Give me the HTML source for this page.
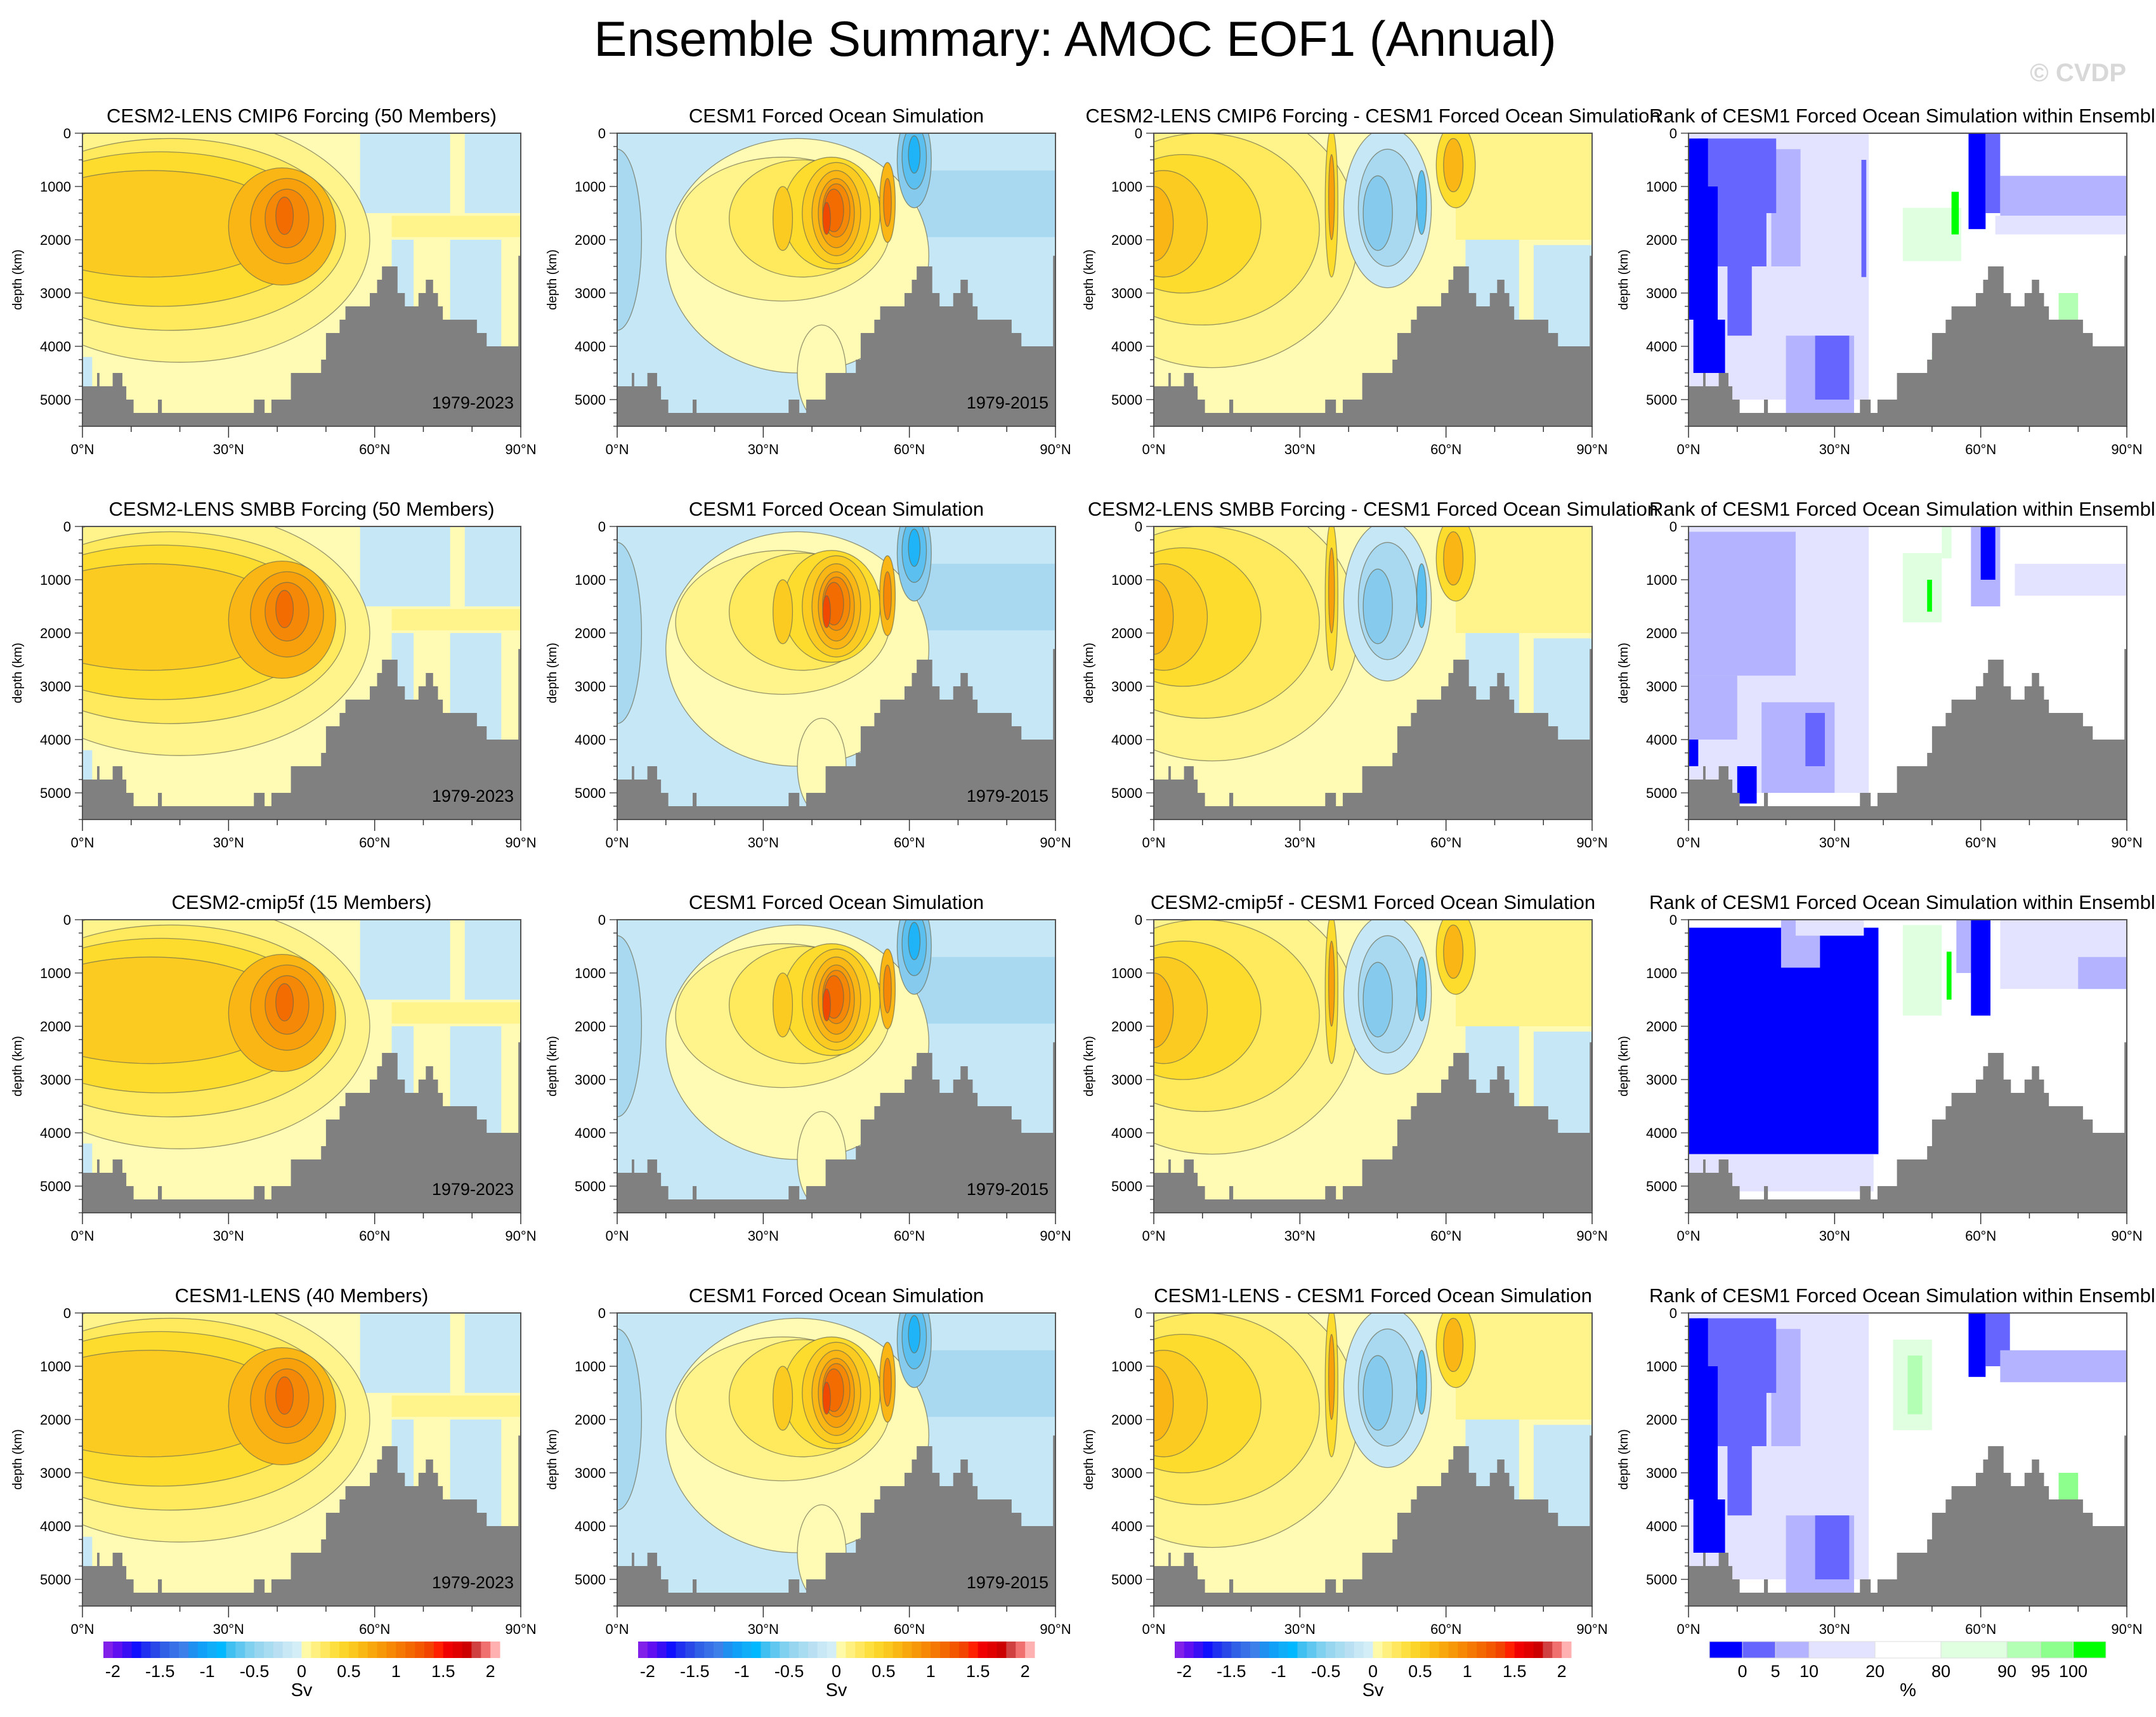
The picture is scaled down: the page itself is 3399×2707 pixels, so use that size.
<!DOCTYPE html>
<html><head><meta charset="utf-8">
<style>
html,body{margin:0;padding:0;background:#fff;overflow:hidden;}
svg{display:block;font-family:"Liberation Sans",sans-serif;}
</style></head>
<body>
<svg id="fig" xmlns="http://www.w3.org/2000/svg" width="3399" height="2707" viewBox="0 0 3399 2707">
<text x="1695" y="88" font-size="78" text-anchor="middle" fill="#000">Ensemble Summary: AMOC EOF1 (Annual)</text>
<text x="3352" y="128" font-size="40" font-weight="bold" text-anchor="end" fill="#d8d8d8">© CVDP</text>
<g id="panels"></g>
</svg>
<script>
// ---- data ----
const colX = [130, 973, 1819, 2662];
const rowY = [210, 830, 1450, 2070];
const latTicks = [0, 30, 60, 90];
const latTickLabels = ["0°N", "30°N", "60°N", "90°N"];
const depthTicks = [0, 1000, 2000, 3000, 4000, 5000];
const bathLat = [0,3,3.5,6.2,8.2,9,10.5,15.5,16.3,35.2,37.4,38.8,42.8,49,50,52.8,54,59,60.5,61.5,64.7,66.2,69,70.5,72,73,74,81,83,89.5];
const bathDepth = [4750,4500,4750,4500,4750,5000,5250,5000,5250,5000,5250,5000,4500,4250,3750,3500,3250,3000,2750,2500,3000,3250,3000,2750,3000,3250,3500,3750,4000,2300];
const col1Titles = ["CESM2-LENS CMIP6 Forcing (50 Members)","CESM2-LENS SMBB Forcing (50 Members)","CESM2-cmip5f (15 Members)","CESM1-LENS (40 Members)"];
const col3Titles = ["CESM2-LENS CMIP6 Forcing - CESM1 Forced Ocean Simulation","CESM2-LENS SMBB Forcing - CESM1 Forced Ocean Simulation","CESM2-cmip5f - CESM1 Forced Ocean Simulation","CESM1-LENS - CESM1 Forced Ocean Simulation"];
const svNeg = ["#8020e8","#6010f0","#3a0ef5","#1010ff","#2030f0","#2a48e8","#3060e6","#3870e8","#3e80ea","#2090f0","#10a0f8","#10aef8","#00b8ff","#40c0f0","#60c8f0","#80d0f0","#98d6f0","#a8dcf0","#b8e0f2","#c8e8f6","#d4eef8"];
const svPos = ["#fffaa8","#fff080","#ffe860","#fde040","#fcd52a","#fbc820","#f9b814","#f8a80c","#f79808","#f68806","#f57804","#f46802","#f35800","#f24400","#ff2000","#f00000","#e00000","#cc0000","#d04040","#f07070","#ffb0b0"];
const svLabels = ["-2","-1.5","-1","-0.5","0","0.5","1","1.5","2"];
const svLabelVals = [-2,-1.5,-1,-0.5,0,0.5,1,1.5,2];
const rankColors = ["#0000ff","#6666ff","#b3b3ff","#e3e3ff","#ffffff","#e0ffe0","#b3ffb3","#8cff8c","#00ff00"];
const rankBounds = [0,102,204,308,512,716,920,1024,1125,1226];
const rankLabels = ["0","5","10","20","80","90","95","100"];
const pal = {p0:"#fffbb4",p1:"#fff38c",p2:"#ffe95c",p3:"#fddc2e",p4:"#fccb22",p5:"#f9b614",p6:"#f7a00c",p7:"#f58806",p8:"#f36c02",p9:"#f04800",p10:"#e51a00",
 n0:"#c6e7f6",n1:"#a9d9f1",n2:"#86cbee",n3:"#5bc0ef",n4:"#1fb3f7",
 r0:"#0000ff",r1:"#6666ff",r2:"#b3b3ff",r3:"#e3e3ff",g0:"#e0ffe0",g1:"#b3ffb3",g2:"#8cff8c",g3:"#00ff00"};
// field shapes: ['e',lat,depth,rxDeg,ryM,color] or ['r',lat0,lat1,d0,d1,color]
const fieldA = [["r",57,90,0,1500,"n0"],["r",75.5,78.5,0,1500,"p0"],["r",63.5,68,2000,5000,"n0"],["r",75.5,86,2000,4000,"n0"],["r",0,2,4200,4800,"n0"],
 ["e",20,2000,39,2300,"p1"],["e",18,1900,36,1800,"p2"],["e",16,1800,33,1450,"p3"],["e",14,1700,28,1000,"p4"],
 ["e",41,1750,11,1100,"p5"],["e",42,1650,7.5,800,"p6"],["e",42,1600,4.5,550,"p7"],["e",41.5,1550,1.8,350,"p8"],["r",63.5,90,1550,1950,"p1"]];
const fieldB = [["e",0,2000,5,1700,"n1"],["r",62,90,700,1950,"n1"],
 ["e",37,2300,27,2200,"p0"],["e",42,4500,5,900,"p0"],["e",34,1800,22,1350,"p1"],["e",38,1600,15,1100,"p2"],["e",44,1500,10,1050,"p3"],
 ["e",45,1500,7,950,"p4"],["e",45,1500,5,800,"p5"],["e",45,1500,3.7,650,"p6"],["e",45,1450,2.8,500,"p7"],["e",44.5,1450,2,400,"p8"],["e",43,1600,0.8,300,"p9"],
 ["e",34,1600,2,600,"p4"],["e",55.5,1300,1.6,750,"p5"],["e",55.5,1300,0.8,450,"p7"],
 ["e",61,500,3.5,900,"n2"],["e",61,450,2.5,600,"n3"],["e",61,400,1.2,350,"n4"]];
const fieldC = [["r",64,75,2000,5000,"n0"],["r",78,90,2100,4000,"n0"],["r",62,90,0,2000,"p1"],
 ["e",12,1900,30,2500,"p1"],["e",10,1800,24,1800,"p2"],["e",6,1700,16,1300,"p3"],["e",2,1700,9,1000,"p4"],["e",0,1700,4,700,"p5"],
 ["e",48,1400,9,1500,"n0"],["e",48,1400,6,1100,"n1"],["e",46,1500,3,700,"n2"],["e",55,1300,1,600,"n3"],
 ["e",36.5,1300,1.3,1400,"p3"],["e",36.5,1200,0.6,800,"p6"],["e",62,600,4,800,"p3"],["e",61.5,600,2,500,"p5"]];
const rank1 = [["r",0,37,0,5000,"r3"],["r",17,23,300,2500,"r2"],["r",2,18,100,1500,"r1"],["r",6,16,1500,2500,"r1"],["r",8,13,2500,3800,"r1"],
 ["r",0,4,100,1000,"r0"],["r",0,6,1000,3500,"r0"],["r",1,7.5,3500,4500,"r0"],["r",20,34,3800,5300,"r2"],["r",26,33,3800,5000,"r1"],
 ["r",35.5,36.5,500,2700,"r1"],["r",57.5,61,0,1800,"r0"],["r",61,64,0,1500,"r1"],["r",64,90,800,1550,"r2"],["r",63,90,1550,1900,"r3"],
 ["r",44,56,1400,2400,"g0"],["r",54,55.5,1100,1900,"g3"],["r",59,60,3100,3400,"g3"],["r",50,52,4100,4300,"g3"],["r",76,80,3000,3600,"g1"]];
const rank2 = [["r",0,37,0,5000,"r3"],["r",0,22,100,2800,"r2"],["r",0,10,2800,4000,"r2"],["r",15,30,3300,5000,"r2"],["r",24,28,3500,4500,"r1"],
 ["r",0,2,4000,4500,"r0"],["r",10,14,4500,5200,"r0"],["r",58,64,0,1500,"r2"],["r",60,63,0,1000,"r0"],["r",67,90,700,1300,"r3"],
 ["r",44,52,500,1800,"g0"],["r",49,50,1000,1600,"g3"],["r",52,54,0,600,"g0"]];
const rank3 = [["r",0,39,150,4400,"r0"],["r",19,27,0,900,"r2"],["r",22,36,0,300,"r3"],["r",0,38,4400,5100,"r3"],["r",55,58,0,1000,"r2"],
 ["r",58,62,0,1800,"r0"],["r",64,90,0,1300,"r3"],["r",80,90,700,1300,"r2"],["r",44,52,100,1800,"g0"],["r",53,54,600,1500,"g3"]];
const rank4 = [["r",0,37,0,5000,"r3"],["r",17,23,300,2500,"r2"],["r",2,18,100,1500,"r1"],["r",6,16,1500,2500,"r1"],["r",8,13,2500,3800,"r1"],
 ["r",0,4,100,1000,"r0"],["r",0,6,1000,3500,"r0"],["r",1,7.5,3500,4500,"r0"],["r",20,34,3800,5300,"r2"],["r",26,33,3800,5000,"r1"],
 ["r",57.5,61,0,1200,"r0"],["r",61,66,0,1000,"r1"],["r",64,90,700,1300,"r2"],["r",42,50,500,2200,"g0"],["r",45,48,800,1900,"g1"],["r",76,80,3000,3600,"g2"]];
const rankFields = [rank1, rank2, rank3, rank4];

// ---- drawing ----
const NS = "http://www.w3.org/2000/svg";
const PW = 691, PH = 462, DMAX = 5500;
const root = document.getElementById("panels");
function mk(tag, attrs, parent){ const e = document.createElementNS(NS, tag); for (const k in attrs) e.setAttribute(k, attrs[k]); (parent||root).appendChild(e); return e; }
let clipId = 0;
function drawPanel(px, py, bg, field, title, year, pname){
  const g = mk("g", {});
  
  
  const xs = lat => px + lat / 90 * PW;
  const ys = d => py + d / DMAX * PH;
  const cid = "clip" + (clipId++);
  const cp = mk("clipPath", {id: cid}, g);
  mk("rect", {x: px, y: py, width: PW, height: PH}, cp);
  const area = mk("g", {"clip-path": "url(#" + cid + ")"}, g);
  
  
  mk("rect", {x: px, y: py, width: PW, height: PH, fill: bg}, area);
  field.forEach(s => {
    let el;
    if (s[0] === "e") {
      el = mk("ellipse", {cx: xs(s[1]), cy: ys(s[2]), rx: s[3] / 90 * PW, ry: s[4] / DMAX * PH, fill: pal[s[5]],
        stroke: "#6a6a50", "stroke-width": 1.3, "stroke-opacity": 0.7}, area);
      
    } else {
      el = mk("rect", {x: xs(s[1]), y: ys(s[3]), width: xs(s[2]) - xs(s[1]), height: ys(s[4]) - ys(s[3]), fill: pal[s[5]]}, area);
      
    }
    
  });
  let d = "M" + xs(0) + "," + ys(DMAX);
  for (let i = 0; i < bathLat.length; i++) {
    const l0 = bathLat[i], l1 = i + 1 < bathLat.length ? bathLat[i + 1] : 90;
    d += " L" + xs(l0) + "," + ys(bathDepth[i]) + " L" + xs(l1) + "," + ys(bathDepth[i]);
  }
  d += " L" + xs(90) + "," + ys(DMAX) + " Z";
  const bath = mk("path", {d: d, fill: "#808080"}, area);
  
  
  const fr = mk("rect", {x: px, y: py, width: PW, height: PH, fill: "none", stroke: "#555", "stroke-width": 2}, g);
  
  
  for (let lat = 0; lat <= 90; lat += 10) {
    const major = lat % 30 === 0;
    const t = mk("line", {x1: xs(lat), x2: xs(lat), y1: py + PH, y2: py + PH + (major ? 18 : 9), stroke: "#333", "stroke-width": 1.5}, g);
    
    
  }
  latTicks.forEach((lat, i) => {
    const t = mk("text", {x: xs(lat), y: py + PH + 44, "font-size": 22, "text-anchor": "middle"}, g);
    t.textContent = latTickLabels[i];
    
    
  });
  for (let dd = 0; dd <= DMAX; dd += 250) {
    const major = dd % 1000 === 0;
    const t = mk("line", {x1: px - (major ? 12 : 6), x2: px, y1: ys(dd), y2: ys(dd), stroke: "#333", "stroke-width": 1.3}, g);
    
    
  }
  depthTicks.forEach(dd => {
    const t = mk("text", {x: px - 18, y: ys(dd) + 8, "font-size": 22, "text-anchor": "end"}, g);
    t.textContent = String(dd);
    
    
  });
  const yl = mk("text", {x: px - 96, y: py + PH / 2, "font-size": 20, "text-anchor": "middle", transform: "rotate(-90 " + (px - 96) + " " + (py + PH / 2) + ")"}, g);
  yl.textContent = "depth (km)";
  
  
  const tt = mk("text", {x: px + PW / 2, y: py - 17, "font-size": 31, "text-anchor": "middle"}, g);
  tt.textContent = title;
  
  
  if (year) {
    const yt = mk("text", {x: px + PW - 11, y: py + PH - 28, "font-size": 27, "text-anchor": "end"}, g);
    yt.textContent = year;
    
    
  }
}
for (let r = 0; r < 4; r++) {
  drawPanel(colX[0], rowY[r], pal.p0, fieldA, col1Titles[r], "1979-2023", "ensemble-panel");
  drawPanel(colX[1], rowY[r], pal.n0, fieldB, "CESM1 Forced Ocean Simulation", "1979-2015", "forced-ocean-panel");
  drawPanel(colX[2], rowY[r], pal.p0, fieldC, col3Titles[r], null, "difference-panel");
  drawPanel(colX[3], rowY[r], "#ffffff", rankFields[r], "Rank of CESM1 Forced Ocean Simulation within Ensemble", null, "rank-panel");
}
const svColors = svNeg.concat(svPos);
for (let c = 0; c < 3; c++) {
  const x0 = colX[c] + 33, w = 625, cy = 2588, ch = 26;
  const g = mk("g", {});
  
  
  const bw = w / svColors.length;
  svColors.forEach((col, i) => {
    const b = mk("rect", {x: x0 + i * bw, y: cy, width: bw + 0.5, height: ch, fill: col}, g);
    
    
  });
  svLabelVals.forEach((v, i) => {
    const bx = x0 + (v + 2.1) / 0.1 * bw;
    const t = mk("text", {x: bx, y: 2644, "font-size": 27, "text-anchor": "middle"}, g);
    t.textContent = svLabels[i];
    
    
  });
  const u = mk("text", {x: x0 + 21 * bw, y: 2674, "font-size": 29, "text-anchor": "middle"}, g);
  u.textContent = "Sv";
  
  
}
{
  const x0 = 2695, s = 625 / 1226, cy = 2588, ch = 26;
  const g = mk("g", {});
  
  
  rankColors.forEach((col, i) => {
    const b = mk("rect", {x: x0 + rankBounds[i] * s, y: cy, width: (rankBounds[i + 1] - rankBounds[i]) * s, height: ch, fill: col, stroke: "#ddd", "stroke-width": 1}, g);
    
    
  });
  rankLabels.forEach((lab, i) => {
    const t = mk("text", {x: x0 + rankBounds[i + 1] * s, y: 2644, "font-size": 27, "text-anchor": "middle"}, g);
    t.textContent = lab;
    
    
  });
  const u = mk("text", {x: x0 + 614 * s, y: 2674, "font-size": 29, "text-anchor": "middle"}, g);
  u.textContent = "%";
  
  
}
</script>
</body></html>
